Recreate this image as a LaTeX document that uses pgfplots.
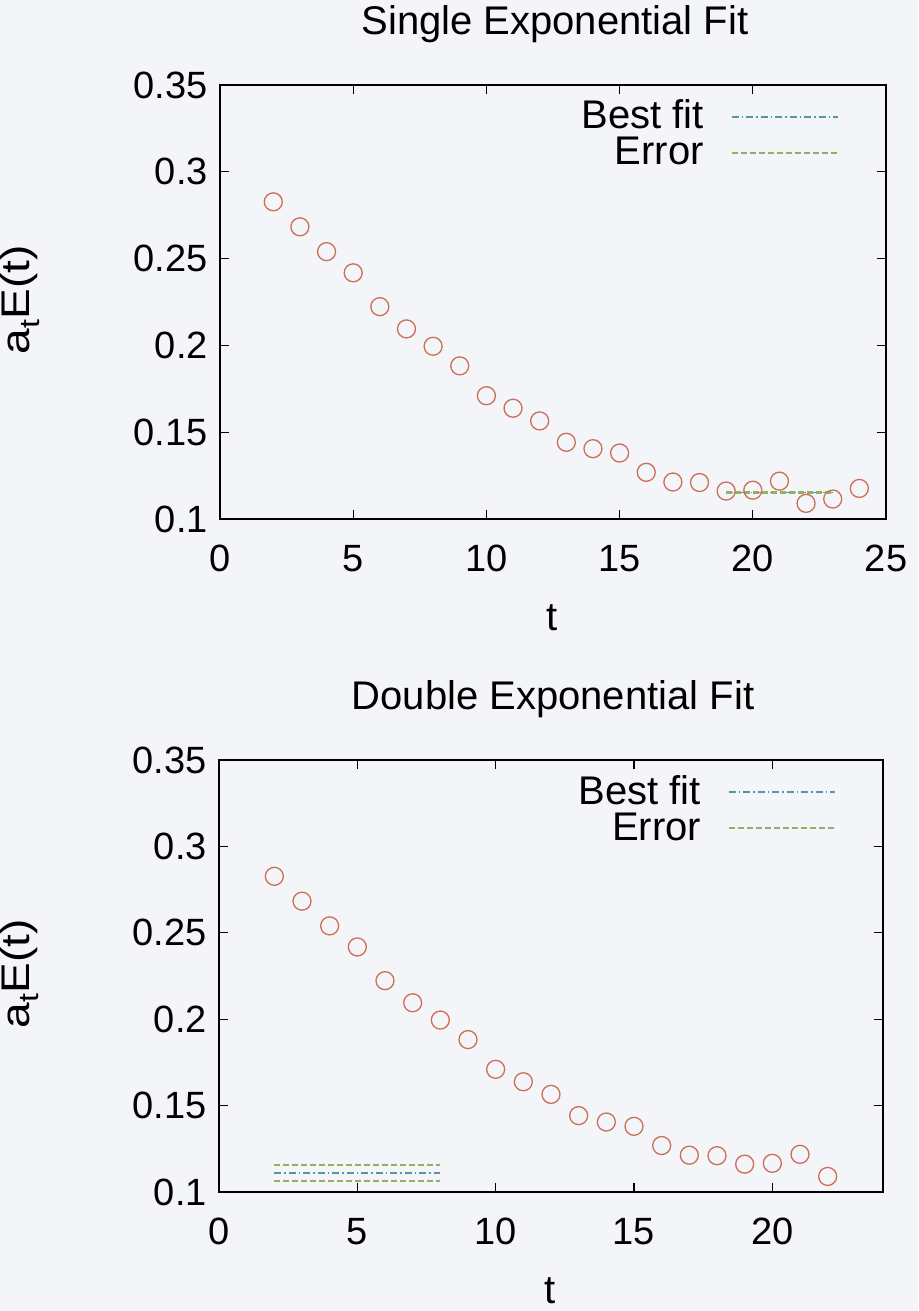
\documentclass[border=0pt]{standalone}
\usepackage{fontspec}
\setmainfont{Liberation Sans}
\usepackage{pgfplots}
\usepackage{pgfplotstable}
\pgfplotsset{compat=1.18}

\definecolor{bg}{RGB}{243,245,248}
\definecolor{ptcol}{RGB}{204,110,88}
\definecolor{fitcol}{RGB}{85,150,165}
\definecolor{errcol}{RGB}{150,176,98}

% effective energy a_t E(t) against time slice t
\pgfplotstableread{
t E
2 0.2827
3 0.2683
4 0.2540
5 0.2418
6 0.2223
7 0.2095
8 0.1995
9 0.1882
10 0.1710
11 0.1638
12 0.1565
13 0.1442
14 0.1405
15 0.1380
16 0.1269
17 0.1213
18 0.1210
19 0.1161
20 0.1166
21 0.1218
22 0.1090
23 0.1115
24 0.1176
}\singledata

\pgfplotstableread{
t E
2 0.2827
3 0.2683
4 0.2540
5 0.2418
6 0.2223
7 0.2095
8 0.1995
9 0.1882
10 0.1710
11 0.1638
12 0.1565
13 0.1442
14 0.1405
15 0.1380
16 0.1269
17 0.1213
18 0.1210
19 0.1161
20 0.1166
21 0.1218
22 0.1090
}\doubledata

\newcommand{\tickfont}{\fontsize{38}{44}\selectfont}
\newcommand{\bigfont}{\fontsize{40}{46}\selectfont}

\pgfplotsset{
  fitpanel/.style={
    scale only axis,
    enlargelimits=false,
    ymin=0.1, ymax=0.35,
    ytick={0.1,0.15,0.2,0.25,0.3,0.35},
    yticklabels={0.1,0.15,0.2,0.25,0.3,0.35},
    tick align=inside,
    major tick length=9pt,
    every tick/.style={black, line width=1.3pt},
    axis line style={black, line width=2.3pt},
    tick label style={font=\tickfont},
    xticklabel style={inner sep=0pt, yshift=-26pt},
    yticklabel style={inner sep=0pt, xshift=-12pt},
    title style={font=\bigfont, at={(axis description cs:0.503,1.127)}, anchor=center, inner sep=0pt},
    xlabel style={font=\bigfont, at={(axis description cs:0.498,-0.228)}, anchor=center, inner sep=0pt},
    ylabel style={font=\bigfont, at={(axis description cs:-0.300,0.505)}, anchor=center, inner sep=0pt, xscale=1.15},
    ylabel={a\textsubscript{t}E(t)},
    xlabel={t},
    legend plot pos=right,
    legend cell align=right,
    legend image code/.code={\draw[#1] (0pt,0pt) -- (106pt,0pt);},
    legend style={draw=none, fill=none, inner sep=0pt,
      at={(rel axis cs:0.929,0.962)}, anchor=north east,
      /tikz/column sep=27pt, /tikz/row sep=6pt,
      nodes={inner sep=0pt, text height=27pt, text depth=3pt, font=\bigfont}},
    datapts/.style={only marks, mark=o, mark size=9pt, ptcol,
      mark options={line width=1.3pt}},
    bestfit/.style={fitcol, line width=1.7pt,
      dash pattern=on 7pt off 3pt on 1.5pt off 3pt},
    errband/.style={errcol, line width=1.7pt, dash pattern=on 6pt off 3pt},
  }
}

\begin{document}
\begin{tikzpicture}[x=1pt,y=1pt]
\fill[bg] (0,0) rectangle (918,1311);

% single exponential fit
\begin{axis}[fitpanel,
  at={(220pt,792pt)}, anchor=south west,
  width=666pt, height=434pt,
  xmin=0, xmax=25,
  xtick={0,5,10,15,20,25},
  xticklabels={0,5,10,15,20,25},
  title={Single Exponential Fit}]
  \addplot[datapts, forget plot] table[x=t, y=E] {\singledata};
  \addplot[bestfit] coordinates {(19,0.1152) (23,0.1152)};
  \addlegendentry{Best fit}
  \addplot[errband] coordinates {(19,0.1157) (23,0.1157)};
  \addlegendentry{Error}
  \addplot[errband, forget plot] coordinates {(19,0.1147) (23,0.1147)};
\end{axis}

% double exponential fit
\begin{axis}[fitpanel,
  at={(219pt,119pt)}, anchor=south west,
  width=664pt, height=432pt,
  xmin=0, xmax=24,
  xtick={0,5,10,15,20},
  xticklabels={0,5,10,15,20},
  legend style={yshift=-0.6pt},
  title={Double Exponential Fit}]
  \addplot[datapts, forget plot] table[x=t, y=E] {\doubledata};
  \addplot[bestfit] coordinates {(2,0.1110) (8,0.1110)};
  \addlegendentry{Best fit}
  \addplot[errband] coordinates {(2,0.1156) (8,0.1156)};
  \addlegendentry{Error}
  \addplot[errband, forget plot] coordinates {(2,0.1064) (8,0.1064)};
\end{axis}

\pgfresetboundingbox
\path (0,0) rectangle (918,1311);
\end{tikzpicture}
\end{document}
